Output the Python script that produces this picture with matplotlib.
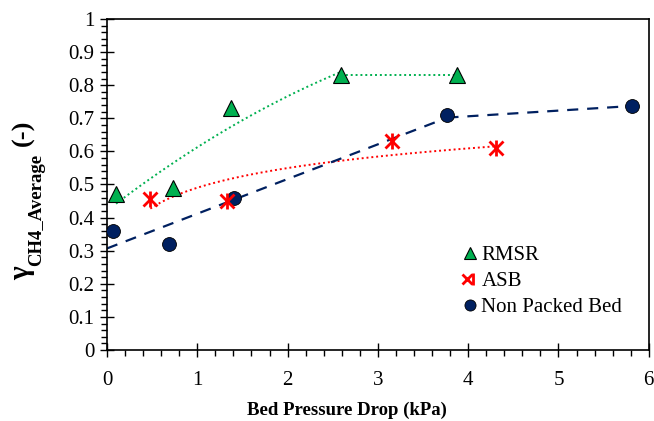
import numpy as np
import matplotlib
matplotlib.use("Agg")
import matplotlib.pyplot as plt
from matplotlib.ticker import MultipleLocator
from matplotlib.legend_handler import HandlerTuple
from matplotlib.lines import Line2D

SERIF = 'Liberation Serif'
plt.rcParams['font.family'] = 'serif'
plt.rcParams['font.serif'] = [SERIF, 'DejaVu Serif']

# Measured data: bed pressure drop (kPa) vs average CH4 yield
rmsr_x = [0.10, 0.73, 1.37, 2.59, 3.88]
rmsr_y = [0.47, 0.49, 0.73, 0.83, 0.83]

asb_x = [0.48, 1.33, 3.16, 4.31]
asb_y = [0.456, 0.45, 0.63, 0.61]

npb_x = [0.07, 0.69, 1.41, 3.77, 5.81]
npb_y = [0.36, 0.32, 0.46, 0.71, 0.737]

y_ticks = [0, 0.1, 0.2, 0.3, 0.4, 0.5, 0.6, 0.7, 0.8, 0.9, 1]
y_tick_labels = ['0', '0.1', '0.2', '0.3', '0.4', '0.5', '0.6', '0.7', '0.8', '0.9', '1']

GREEN = '#00B050'
RED = '#FF0000'
NAVY = '#002060'

W, H = 654, 421
fig = plt.figure(figsize=(W / 100, H / 100), dpi=100)
ax = fig.add_axes([0.1636, 0.1686, 0.8284, 0.7864])

# Trend lines
# RMSR: quadratic fit over the rising part, then straight to the last point
c2 = np.polyfit(rmsr_x[:4], rmsr_y[:4], 2)
xs = np.linspace(rmsr_x[0], rmsr_x[3], 100)
ax.plot(xs, np.polyval(c2, xs), color=GREEN, ls=(0, (1, 1.5)), lw=1.4, zorder=2)
ax.plot(rmsr_x[3:], rmsr_y[3:], color=GREEN, ls=(0, (1, 1.5)), lw=1.4, zorder=2)

# ASB: logarithmic fit
b, a = np.polyfit(np.log(asb_x), asb_y, 1)
xs = np.linspace(asb_x[0], asb_x[-1], 100)
ax.plot(xs, a + b * np.log(xs), color=RED, ls=(0, (1, 1.5)), lw=1.4, zorder=2)

# Non packed bed: linear fit, then straight to the last point
m, q = np.polyfit(npb_x[:4], npb_y[:4], 1)
xs = np.array([0.0, npb_x[3]])
ax.plot(xs, m * xs + q, color=NAVY, ls=(0, (5, 4)), lw=1.6, zorder=2)
ax.plot([npb_x[3], npb_x[4]], [m * npb_x[3] + q, npb_y[4]], color=NAVY,
        ls=(0, (5, 4)), lw=1.6, zorder=2)

# Markers
ax.plot(rmsr_x, rmsr_y, ls='none', marker='^', ms=12, mfc=GREEN, mec='black',
        mew=0.8, zorder=4)
ax.plot(asb_x, asb_y, ls='none', marker='x', ms=10, mec=RED, mew=2, zorder=4)
ax.plot(asb_x, asb_y, ls='none', marker='|', ms=12, mec=RED, mew=2, zorder=4)
ax.plot(npb_x, npb_y, ls='none', marker='o', ms=10, mfc=NAVY, mec='black',
        mew=0.6, zorder=3)

ax.set_xlim(0, 6)
ax.set_ylim(0, 1)
ax.xaxis.set_major_locator(MultipleLocator(1))
ax.xaxis.set_minor_locator(MultipleLocator(0.2))
ax.set_yticks(y_ticks)
ax.set_yticklabels(y_tick_labels)
ax.yaxis.set_minor_locator(MultipleLocator(0.02))
for lab in ax.get_xticklabels() + ax.get_yticklabels():
    lab.set_fontfamily(SERIF)

ax.tick_params(which='major', direction='inout', length=10, width=1,
               labelsize=15, pad=4)
ax.tick_params(which='minor', direction='out', length=4, width=1)
ax.tick_params(axis='x', pad=10)
for s in ax.spines.values():
    s.set_linewidth(1.2)

ax.set_xlabel('Bed Pressure Drop (kPa)', fontsize=13.5, fontweight='bold',
              family=SERIF)
ax.xaxis.set_label_coords(0.443, -0.155)

# Y axis title: bold gamma, bold subscript, then (-), stacked upward
renderer = fig.canvas.get_renderer()
common = dict(rotation=90, rotation_mode='anchor', ha='left', va='baseline',
              fontweight='bold', family=SERIF, transform=None)
t1 = fig.text(29, H - 280, 'γ', fontsize=21, **common)
y_next = t1.get_window_extent(renderer).y1
t2 = fig.text(41, y_next, 'CH4_Average', fontsize=13.5, **common)
y_next = t2.get_window_extent(renderer).y1 + 8
fig.text(29, y_next, '(-)', fontsize=19, **common)

h_rmsr = Line2D([], [], ls='none', marker='^', ms=8, mfc=GREEN, mec='black', mew=0.8)
h_asb_x = Line2D([], [], ls='none', marker='x', ms=7, mec=RED, mew=2)
h_asb_v = Line2D([], [], ls='none', marker='|', ms=9, mec=RED, mew=2)
h_npb = Line2D([], [], ls='none', marker='o', ms=8, mfc=NAVY, mec='black', mew=0.6)
ax.legend([h_rmsr, (h_asb_x, h_asb_v), h_npb], ['RMSR', 'ASB', 'Non Packed Bed'],
          handler_map={tuple: HandlerTuple(ndivide=None, pad=0)},
          loc='lower left', bbox_to_anchor=(0.643, 0.075), frameon=False,
          prop={'family': SERIF, 'size': 15}, handlelength=0.6,
          handletextpad=0.25, labelspacing=0.3, borderaxespad=0)

fig.savefig('out.png', dpi=100)
